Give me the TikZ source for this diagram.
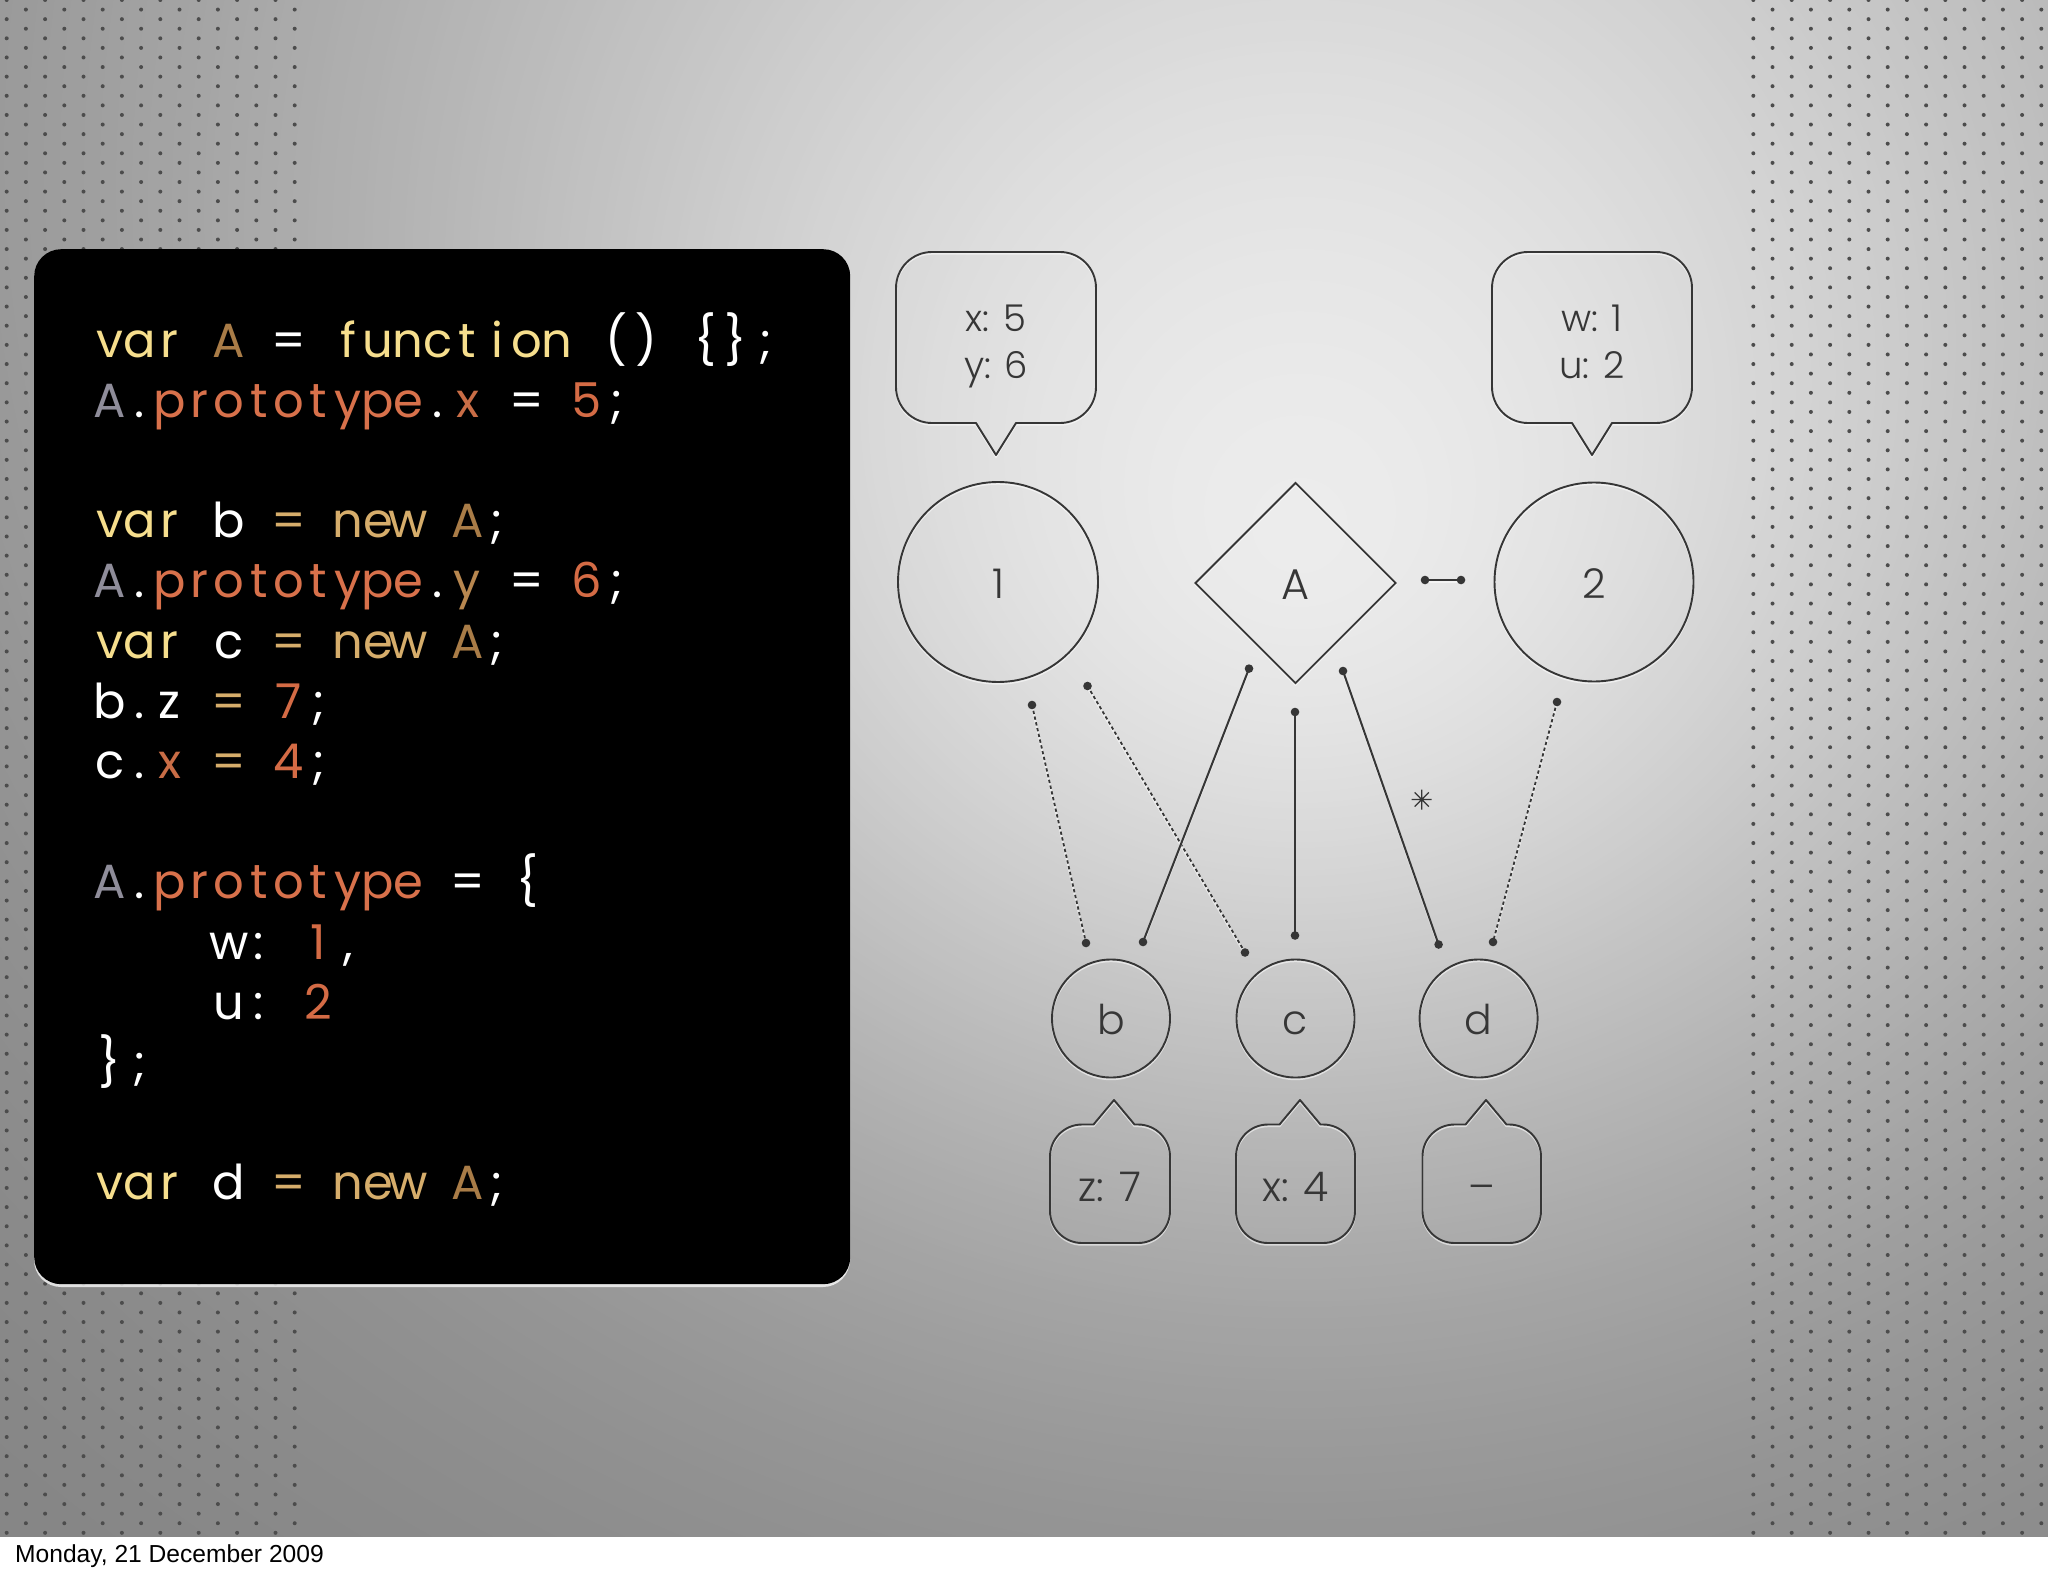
\documentclass[tikz,border=0pt]{standalone}
\usepackage{fontspec}
\usetikzlibrary{calc,shapes.geometric}
\IfFontExistsTF{Poppins Light}{\newfontfamily\pop{Poppins Light}}{\newfontfamily\pop{Poppins}}
\newfontfamily\popr{Poppins}
\newfontfamily\datefont{Liberation Sans}
\definecolor{ink}{HTML}{363636}
\definecolor{dotcol}{HTML}{4C4C4C}
\definecolor{bgfar}{HTML}{838383}
\definecolor{cY}{HTML}{F6DE8D}
\definecolor{cBr}{HTML}{A97C47}
\definecolor{cTan}{HTML}{D6AD6B}
\definecolor{cGr}{HTML}{8F8D9A}
\definecolor{cOr}{HTML}{D8714B}
\definecolor{cX}{HTML}{C96D46}
\definecolor{cYy}{HTML}{B8874F}
\definecolor{cNum}{HTML}{D46B45}
\makeatletter
\newlength\cw
\setlength\cw{29.8pt}
\newcommand\monoc[1]{\@tfor\mm@c:=#1\do{\makebox[\cw][c]{\mm@c}}}
\makeatother
\newcommand\tk[2]{\textcolor{#1}{\monoc{#2}}}
\newcommand\spc{\hspace*{\cw}}
% speech bubble, tip below: x0 y0 x1 y1 tipx tipy halfwidth radius
\newcommand\bubdown[8]{%
\draw[bub] (#1,{#2+#8}) .. controls (#1,{#2+0.4477*#8}) and ({#1+0.4477*#8},#2) .. ({#1+#8},#2)
 -- ({#3-#8},#2) .. controls ({#3-0.4477*#8},#2) and (#3,{#2+0.4477*#8}) .. (#3,{#2+#8})
 -- (#3,{#4-#8}) .. controls (#3,{#4-0.4477*#8}) and ({#3-0.4477*#8},#4) .. ({#3-#8},#4)
 -- ({#5+#7},#4) -- (#5,#6) -- ({#5-#7},#4)
 -- ({#1+#8},#4) .. controls ({#1+0.4477*#8},#4) and (#1,{#4-0.4477*#8}) .. (#1,{#4-#8}) -- cycle;}
% speech bubble, tip above
\newcommand\bubup[8]{%
\draw[bub] (#1,{#2+#8}) .. controls (#1,{#2+0.4477*#8}) and ({#1+0.4477*#8},#2) .. ({#1+#8},#2)
 -- ({#5-#7},#2) -- (#5,#6) -- ({#5+#7},#2)
 -- ({#3-#8},#2) .. controls ({#3-0.4477*#8},#2) and (#3,{#2+0.4477*#8}) .. (#3,{#2+#8})
 -- (#3,{#4-#8}) .. controls (#3,{#4-0.4477*#8}) and ({#3-0.4477*#8},#4) .. ({#3-#8},#4)
 -- ({#1+#8},#4) .. controls ({#1+0.4477*#8},#4) and (#1,{#4-0.4477*#8}) .. (#1,{#4-#8}) -- cycle;}
\newcommand\conn[3]{\draw[#1] (#2) -- (#3); \fill[ink] (#2) circle (4.3) (#3) circle (4.3);}
\begin{document}
\begin{tikzpicture}[x=1pt,y=-1pt,
  emb/.style={preaction={draw=white, draw opacity=0.55, line width=2pt, transform canvas={yshift=-1.7pt}}},
  bub/.style={draw=ink, line width=1.9pt, line join=round, emb},
  circ/.style={circle, draw=ink, line width=1.9pt, inner sep=0pt, emb, text=ink,
    text height=32pt, text depth=0pt, font={\pop\fontsize{41pt}{48pt}\selectfont}},
  dia/.style={diamond, aspect=1, draw=ink, line width=1.9pt, inner sep=0pt, emb, text=ink,
    minimum width=201pt, minimum height=201pt,
    text height=32pt, text depth=0pt, font={\pop\fontsize{43pt}{48pt}\selectfont}},
  lbl/.style={anchor=base, inner sep=0pt, text=ink, font={\pop\fontsize{37pt}{44pt}\selectfont}},
  lblb/.style={anchor=base, inner sep=0pt, text=ink, font={\pop\fontsize{41pt}{48pt}\selectfont}},
  code/.style={anchor=base west, inner sep=0pt, text=white, font={\popr\fontsize{48pt}{60pt}\selectfont}},
  dotl/.style={draw=ink, line width=1.8pt, dash pattern=on 3.3pt off 2.6pt, emb},
  soll/.style={draw=ink, line width=2pt, emb}]
\useasboundingbox (0,0) rectangle (2048,1576);
\fill[white] (0,0) rectangle (2048,1576);
% background: concentric light rings
\begin{scope}
\clip (0,0) rectangle (2048,1536);
\fill[bgfar] (0,0) rectangle (2048,1536);
\foreach \r in {2400,2392,...,4}{%
  \pgfmathtruncatemacro\gv{round(130+106*exp(-((\r/1050)^1.8)))}%
  \pgfmathsetmacro\cy{540-0.3*\r}%
  \fill[fill={rgb,255:red,\gv;green,\gv;blue,\gv}] (1300,\cy) circle (\r);}
\fill[dotcol] \foreach \k in {0,...,160}{ \foreach \j in {0,...,7}{
   ({6.7+19.2*mod(\k,2)+38.4*\j},{9.58*\k}) circle (2)
   ({1753.3+19.2*mod(\k,2)+38.4*\j},{9.58*\k}) circle (2) } };
\end{scope}
% code panel
\fill[white, opacity=0.75, rounded corners=27pt] (34,252) rectangle (850,1287);
\node[fill=black, rounded corners=27pt, inner sep=0pt, anchor=north west,
  minimum width=816pt, minimum height=1035pt] (codebox) at (34,249) {};
\node[code] (L1) at (94.8,357) {\tk{cY}{var}\spc\tk{cBr}{A}\spc\tk{white}{=}\spc\tk{cY}{function}\spc\tk{white}{()}\spc\tk{white}{\{\};}};
\node[code] (L2) at (94.8,417.2) {\tk{cGr}{A}\tk{white}{.}\tk{cOr}{prototype}\tk{white}{.}\tk{cX}{x}\spc\tk{white}{=}\spc\tk{cNum}{5}\tk{white}{;}};
\node[code] (L4) at (94.8,537.6) {\tk{cY}{var}\spc\tk{white}{b}\spc\tk{cTan}{=}\spc\tk{cTan}{new}\spc\tk{cBr}{A}\tk{white}{;}};
\node[code] (L5) at (94.8,597.8) {\tk{cGr}{A}\tk{white}{.}\tk{cOr}{prototype}\tk{white}{.}\tk{cYy}{y}\spc\tk{white}{=}\spc\tk{cNum}{6}\tk{white}{;}};
\node[code] (L6) at (94.8,658) {\tk{cY}{var}\spc\tk{white}{c}\spc\tk{cTan}{=}\spc\tk{cTan}{new}\spc\tk{cBr}{A}\tk{white}{;}};
\node[code] (L7) at (94.8,718.2) {\tk{white}{b.z}\spc\tk{cTan}{=}\spc\tk{cNum}{7}\tk{white}{;}};
\node[code] (L8) at (94.8,778.4) {\tk{white}{c.}\tk{cX}{x}\spc\tk{cTan}{=}\spc\tk{cNum}{4}\tk{white}{;}};
\node[code] (L10) at (94.8,898.8) {\tk{cGr}{A}\tk{white}{.}\tk{cOr}{prototype}\spc\tk{white}{=}\spc\tk{white}{\{}};
\node[code] (L11) at (94.8,959) {\spc\spc\spc\spc\tk{white}{w:}\spc\tk{cNum}{1}\tk{white}{,}};
\node[code] (L12) at (94.8,1019.2) {\spc\spc\spc\spc\tk{white}{u:}\spc\tk{cNum}{2}};
\node[code] (L13) at (94.8,1079.4) {\tk{white}{\};}};
\node[code] (L15) at (94.8,1199.8) {\tk{cY}{var}\spc\tk{white}{d}\spc\tk{cTan}{=}\spc\tk{cTan}{new}\spc\tk{cBr}{A}\tk{white}{;}};
% top bubbles
\bubdown{896}{252}{1096}{423}{996}{455}{20}{36}
\node[lbl] (bx) at (996,331) {x: 5};
\node[lbl] (by) at (996,378) {y: 6};
\bubdown{1492}{252}{1692}{423}{1592}{455}{20}{36}
\node[lbl] (bw) at (1592,331) {w: 1};
\node[lbl] (bu) at (1592,378) {u: 2};
% main nodes
\node[circ, minimum size=200pt] (one) at (998,582) {1};
\node[dia] (A) at (1295.5,583) {A};
\node[circ, minimum size=199pt] (two) at (1594,582) {2};
\node[circ, minimum size=118pt] (b) at (1111,1018.5) {b};
\node[circ, minimum size=118pt] (c) at (1295.5,1018.5) {c};
\node[circ, minimum size=118pt] (d) at (1478.6,1018.5) {d};
% bottom bubbles
\bubup{1050}{1124.5}{1170}{1243}{1114}{1100}{20.5}{32}
\node[lblb] (bz) at (1110,1201) {z: 7};
\bubup{1236}{1124.5}{1355}{1243}{1300}{1100}{20.5}{32}
\node[lblb] (bx4) at (1295.5,1201) {x: 4};
\bubup{1422.5}{1124.5}{1541}{1243}{1486}{1100}{20.5}{32}
\node[lblb] (bdash) at (1482,1201) {–};
% connector ends
\coordinate (s1) at ($(one)+(34,123)$);   \coordinate (e1) at ($(b)+(-25,-75.5)$);
\coordinate (s2) at ($(one)+(89.5,104)$); \coordinate (e2) at ($(c)+(-50.5,-66)$);
\coordinate (s3) at ($(A)+(-46.5,85.6)$); \coordinate (e3) at ($(b)+(32,-76.5)$);
\coordinate (s4) at ($(A)+(-0.5,129)$);   \coordinate (e4) at ($(c)+(-0.5,-83)$);
\coordinate (s5) at ($(A)+(47.5,88)$);    \coordinate (e5) at ($(d)+(-40,-74)$);
\coordinate (s6) at ($(two)+(-37,120)$);  \coordinate (e6) at ($(d)+(14.4,-76.5)$);
\coordinate (s7) at ($(A)+(129.5,-3)$);   \coordinate (e7) at ($(two)+(-133,-2)$);
\conn{dotl}{s1}{e1}
\conn{dotl}{s2}{e2}
\conn{soll}{s3}{e3}
\conn{soll}{s4}{e4}
\conn{soll}{s5}{e5}
\conn{dotl}{s6}{e6}
\conn{soll}{s7}{e7}
% asterisk
\coordinate (star) at (1421.7,799.5);
\draw[ink, line width=1.3pt] ($(star)+(-10,0)$) -- ($(star)+(10,0)$)
  ($(star)+(0,-10)$) -- ($(star)+(0,10)$)
  ($(star)+(-7.1,-7.1)$) -- ($(star)+(7.1,7.1)$)
  ($(star)+(-7.1,7.1)$) -- ($(star)+(7.1,-7.1)$);
% date
\node[anchor=base west, inner sep=0pt, font={\datefont\fontsize{24.6pt}{28pt}\selectfont}] (date) at (15,1562) {Monday, 21 December 2009};
\end{tikzpicture}
\end{document}
